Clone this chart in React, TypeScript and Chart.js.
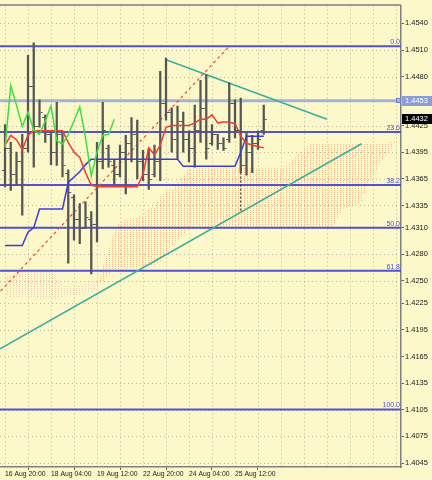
import React, { useEffect, useRef } from "react";
import { Chart, registerables } from "chart.js";

Chart.register(...registerables);

// ---------- data ----------
const xTickBars = [0, 8, 16, 24, 32, 40];
const xTickLabels = ["16 Aug 20:00", "18 Aug 04:00", "19 Aug 12:00", "22 Aug 20:00", "24 Aug 04:00", "25 Aug 12:00"];
const xGridBars = [0, 4, 8, 12, 16, 20, 24, 28, 32, 36, 40, 44, 48, 52, 56, 60, 64, 68];

const yTickValues = [1.4540, 1.4510, 1.4480, 1.4425, 1.4395, 1.4365, 1.4335, 1.4310, 1.4280, 1.4250, 1.4225, 1.4195, 1.4165, 1.4135, 1.4105, 1.4075, 1.4045];
const yTickLabels = ["1.4540", "1.4510", "1.4480", "1.4425", "1.4395", "1.4365", "1.4335", "1.4310", "1.4280", "1.4250", "1.4225", "1.4195", "1.4165", "1.4135", "1.4105", "1.4075", "1.4045"];

const barOpen = [1.4375, 1.4400, 1.4370, 1.4385, 1.4400, 1.4470, 1.4425, 1.4435, 1.4415, 1.4395,
  1.4415, 1.4372, 1.4345, 1.4320, 1.4310, 1.4320, 1.4314, 1.4385, 1.4400, 1.4380,
  1.4370, 1.4395, 1.4405, 1.4415, 1.4385, 1.4370, 1.4370, 1.4385, 1.4450, 1.4440,
  1.4410, 1.4430, 1.4410, 1.4400, 1.4420, 1.4445, 1.4405, 1.4415, 1.4405, 1.4410,
  1.4450, 1.4420, 1.4380, 1.4395, 1.4405, 1.4420];
const barHigh = [1.4426, 1.4406, 1.4395, 1.4415, 1.4504, 1.4518, 1.4454, 1.4437, 1.4417, 1.4451,
  1.4417, 1.4375, 1.4347, 1.4337, 1.4339, 1.4328, 1.4406, 1.4451, 1.4403, 1.4386,
  1.4403, 1.4414, 1.4434, 1.4431, 1.4397, 1.4399, 1.4403, 1.4486, 1.4501, 1.4445,
  1.4447, 1.4440, 1.4419, 1.4448, 1.4476, 1.4482, 1.4426, 1.4415, 1.4411, 1.4473,
  1.4454, 1.4456, 1.4417, 1.4414, 1.4419, 1.4448];
const barLow = [1.4356, 1.4352, 1.4358, 1.4324, 1.4395, 1.4378, 1.4423, 1.4406, 1.4381, 1.4380,
  1.4367, 1.4270, 1.4296, 1.4292, 1.4309, 1.4258, 1.4294, 1.4376, 1.4378, 1.4359,
  1.4367, 1.4348, 1.4384, 1.4365, 1.4363, 1.4353, 1.4367, 1.4363, 1.4431, 1.4395,
  1.4387, 1.4395, 1.4384, 1.4378, 1.4406, 1.4387, 1.4403, 1.4398, 1.4397, 1.4406,
  1.4411, 1.4372, 1.4369, 1.4372, 1.4398, 1.4415];
const barClose = [1.4400, 1.4370, 1.4385, 1.4400, 1.4470, 1.4425, 1.4440, 1.4415, 1.4395, 1.4415,
  1.4380, 1.4350, 1.4320, 1.4310, 1.4322, 1.4314, 1.4385, 1.4420, 1.4385, 1.4370,
  1.4395, 1.4405, 1.4415, 1.4385, 1.4370, 1.4365, 1.4385, 1.4450, 1.4440, 1.4410,
  1.4430, 1.4410, 1.4400, 1.4420, 1.4445, 1.4400, 1.4415, 1.4405, 1.4400, 1.4450,
  1.4420, 1.4380, 1.4395, 1.4405, 1.4410, 1.4432];

// dashed tail under bar 41
const tailBar = 41;
const tailFrom = 1.4372;
const tailTo = 1.4328;

const tenkan = [1.4403, 1.4414, 1.4409, 1.4398, 1.4414, 1.4419, 1.4419, 1.4419, 1.4419, 1.4419,
  1.4419, 1.4406, 1.4395, 1.4389, 1.4372, 1.4358, 1.4356, 1.4356, 1.4356, 1.4356,
  1.4356, 1.4356, 1.4356, 1.4356, 1.4370, 1.4400, 1.4392, 1.4403, 1.4423, 1.4425,
  1.4425, 1.4425, 1.4425, 1.4428, 1.4432, 1.4432, 1.4437, 1.4428, 1.4429, 1.4429,
  1.4427, 1.4413, 1.4405, 1.4403, 1.4401, 1.4400];
const kijun = [1.4290, 1.4290, 1.4290, 1.4290, 1.4305, 1.4310, 1.4331, 1.4331, 1.4331, 1.4331,
  1.4331, 1.4361, 1.4367, 1.4373, 1.4381, 1.4387, 1.4387, 1.4387, 1.4387, 1.4387,
  1.4387, 1.4387, 1.4387, 1.4387, 1.4387, 1.4387, 1.4387, 1.4387, 1.4387, 1.4387,
  1.4387, 1.4379, 1.4379, 1.4379, 1.4379, 1.4379, 1.4379, 1.4379, 1.4379, 1.4379,
  1.4379, 1.4395, 1.4413, 1.4413, 1.4413, 1.4413];
const chikou = [1.4400, 1.4470, 1.4448, 1.4424, 1.4440, 1.4420, 1.4415, 1.4430, 1.4447, 1.4408,
  1.4404, 1.4415, 1.4430, 1.4446, 1.4411, 1.4368, 1.4395, 1.4414, 1.4415, 1.4432];

const spanA = [1.4233, 1.4232, 1.4231, 1.4231, 1.4232, 1.4231, 1.4229, 1.4229, 1.4231, 1.4229,
  1.4232, 1.4233, 1.4233, 1.4234, 1.4236, 1.4238, 1.4241, 1.4266, 1.4283, 1.4308,
  1.4317, 1.4319, 1.4320, 1.4322, 1.4324, 1.4331, 1.4333, 1.4347, 1.4350, 1.4353,
  1.4361, 1.4370, 1.4376, 1.4377, 1.4377, 1.4377, 1.4377, 1.4377, 1.4377, 1.4377,
  1.4377, 1.4377, 1.4377, 1.4377, 1.4377, 1.4377, 1.4377, 1.4377, 1.4377, 1.4380,
  1.4387, 1.4393, 1.4400, 1.4404, 1.4405, 1.4405, 1.4405, 1.4405, 1.4405, 1.4405,
  1.4405, 1.4405, 1.4405, 1.4405, 1.4405, 1.4405, 1.4405, 1.4406, 1.4408];
const spanB = [1.4255, 1.4257, 1.4258, 1.4260, 1.4261, 1.4262, 1.4263, 1.4262, 1.4261, 1.4253,
  1.4246, 1.4244, 1.4244, 1.4245, 1.4246, 1.4248, 1.4252, 1.4247, 1.4258, 1.4263,
  1.4264, 1.4264, 1.4264, 1.4264, 1.4264, 1.4266, 1.4267, 1.4272, 1.4281, 1.4289,
  1.4296, 1.4303, 1.4308, 1.4311, 1.4311, 1.4311, 1.4311, 1.4311, 1.4311, 1.4311,
  1.4311, 1.4311, 1.4311, 1.4311, 1.4311, 1.4311, 1.4311, 1.4311, 1.4311, 1.4311,
  1.4311, 1.4311, 1.4311, 1.4311, 1.4311, 1.4311, 1.4311, 1.4311, 1.4322, 1.4333,
  1.4334, 1.4336, 1.4339, 1.4356, 1.4367, 1.4380, 1.4389, 1.4397, 1.4406];

const fibHighBar = 39;
const fibHigh = 1.45143;
const fibLowBar = -20;
const fibLow = 1.41054;
const fibLevels = [0, 23.6, 38.2, 50, 61.8, 100];
const fibLabels = ["0.0", "23.6", "38.2", "50.0", "61.8", "100.0"];

const hLevel = 1.4453;
const hLevelLabel = "1.4453";
const lastPrice = 1.4432;
const lastPriceLabel = "1.4432";

const trendDownBars = [28, 56];
const trendDownPrices = [1.4499, 1.4432];
const trendUpBars = [-1, 62];
const trendUpPrices = [1.4173, 1.44045];

// view window
const xMin = -0.87;
const xMax = 68.87;
const yMin = 1.404056;
const yMax = 1.456011;

// ---------- styles ----------
const BG = "#FCF8CA";
const BAR = "#565656";
const FIB = "#5252D2";
const FONT = '"Liberation Sans", Arial, sans-serif';

export default function App() {
  const ref = useRef<HTMLCanvasElement>(null);

  useEffect(() => {
    document.body.style.margin = "0";
    const canvas = ref.current!;
    const ctx = canvas.getContext("2d")!;

    const makePattern = (color: string) => {
      const pc = document.createElement("canvas");
      pc.width = 3;
      pc.height = 2;
      const p = pc.getContext("2d")!;
      p.fillStyle = color;
      p.fillRect(1, 0, 1, 1);
      return ctx.createPattern(pc, "repeat")!;
    };
    const sandy = makePattern("rgba(242,165,120,0.8)");
    const thistle = makePattern("rgba(230,180,170,0.6)");

    const pts = (xs: number[], ys: number[]) => xs.map((x, i) => ({ x, y: ys[i] }));
    const series = (ys: number[]) => ys.map((y, i) => ({ x: i, y }));

    const fibDatasets = fibLevels.map((lv) => {
      const p = fibHigh - ((fibHigh - fibLow) * lv) / 100;
      return {
        type: "line" as const,
        data: [{ x: xMin - 1, y: p }, { x: xMax + 1, y: p }],
        borderColor: FIB,
        borderWidth: 2,
        pointRadius: 0,
        order: 10,
      };
    });

    const decor = {
      id: "decor",
      beforeDraw(chart: any) {
        const { ctx: c, chartArea: a, scales } = chart;
        const x = scales.x, y = scales.y;
        c.save();
        c.fillStyle = BG;
        c.fillRect(0, 0, chart.width, chart.height);
        c.strokeStyle = "rgba(120,120,110,0.5)";
        c.lineWidth = 1;
        c.setLineDash([1, 3]);
        for (const b of xGridBars) {
          const px = Math.round(x.getPixelForValue(b)) + 0.5;
          c.beginPath();
          c.moveTo(px, a.top);
          c.lineTo(px, a.bottom);
          c.stroke();
        }
        for (const v of yTickValues) {
          const py = Math.round(y.getPixelForValue(v)) + 0.5;
          c.beginPath();
          c.moveTo(a.left, py);
          c.lineTo(a.right, py);
          c.stroke();
        }
        c.restore();
      },
      afterDatasetsDraw(chart: any) {
        const { ctx: c, chartArea: a, scales } = chart;
        const x = scales.x, y = scales.y;
        c.save();
        // open / close ticks
        c.strokeStyle = BAR;
        c.lineWidth = 1;
        for (let i = 0; i < barOpen.length; i++) {
          const px = x.getPixelForValue(i);
          const oy = Math.round(y.getPixelForValue(barOpen[i])) + 0.5;
          const cy = Math.round(y.getPixelForValue(barClose[i])) + 0.5;
          c.beginPath();
          c.moveTo(px - 3, oy);
          c.lineTo(px - 1, oy);
          c.moveTo(px + 1, cy);
          c.lineTo(px + 3, cy);
          c.stroke();
        }
        // fib labels
        c.fillStyle = FIB;
        c.font = `7px ${FONT}`;
        c.textAlign = "right";
        c.textBaseline = "alphabetic";
        fibLevels.forEach((lv, i) => {
          const p = fibHigh - ((fibHigh - fibLow) * lv) / 100;
          const py = y.getPixelForValue(p);
          c.fillText(fibLabels[i], a.right - 1, py - 2);
        });
        c.restore();
      },
      afterDraw(chart: any) {
        const { ctx: c, chartArea: a, scales } = chart;
        const y = scales.y;
        c.save();
        c.strokeStyle = "#808080";
        c.lineWidth = 1.5;
        c.beginPath();
        c.moveTo(0, a.top - 0.5);
        c.lineTo(a.right, a.top - 0.5);
        c.stroke();
        c.font = `7.5px ${FONT}`;
        c.textBaseline = "middle";
        c.textAlign = "left";
        const hy = Math.round(y.getPixelForValue(hLevel));
        c.fillStyle = "#8A9DD8";
        c.fillRect(a.right + 1, hy - 5, 31, 10);
        c.fillStyle = "#ffffff";
        c.fillText(hLevelLabel, a.right + 4, hy);
        c.strokeStyle = "#7080C8";
        c.lineWidth = 1;
        c.strokeRect(a.right - 4.5, hy - 2.5, 4, 4);
        const ly = Math.round(y.getPixelForValue(lastPrice));
        c.fillStyle = "#000000";
        c.fillRect(a.right + 1, ly - 5, 31, 10);
        c.fillStyle = "#ffffff";
        c.fillText(lastPriceLabel, a.right + 4, ly);
        c.restore();
      },
    };

    const chart = new Chart(ctx, {
      type: "line",
      data: {
        datasets: [
          {
            type: "line",
            data: series(spanA),
            borderColor: "rgba(0,0,0,0)",
            borderWidth: 1,
            pointRadius: 0,
            fill: { target: "+1", above: sandy, below: thistle },
            order: 20,
          },
          {
            type: "line",
            data: series(spanB),
            borderColor: "rgba(0,0,0,0)",
            borderWidth: 1,
            pointRadius: 0,
            fill: false,
            order: 20,
          },
          ...fibDatasets,
          {
            type: "line",
            data: [{ x: xMin - 1, y: hLevel }, { x: xMax + 1, y: hLevel }],
            borderColor: "#A4B3D4",
            borderWidth: 3,
            pointRadius: 0,
            order: 9,
          },
          {
            type: "line",
            data: [{ x: fibLowBar, y: fibLow }, { x: fibHighBar, y: fibHigh }],
            borderColor: "#F04A44",
            borderWidth: 1.2,
            borderDash: [3, 3],
            pointRadius: 0,
            order: 8,
          },
          {
            type: "line",
            data: pts(trendDownBars, trendDownPrices),
            borderColor: "#3AAE9E",
            borderWidth: 1.5,
            pointRadius: 0,
            order: 7,
          },
          {
            type: "line",
            data: pts(trendUpBars, trendUpPrices),
            borderColor: "#3AAE9E",
            borderWidth: 1.5,
            pointRadius: 0,
            order: 7,
          },
          {
            type: "line",
            data: [{ x: tailBar, y: tailFrom }, { x: tailBar, y: tailTo }],
            borderColor: "#202020",
            borderWidth: 1,
            borderDash: [2, 2],
            pointRadius: 0,
            order: 6,
          },
          {
            type: "bar",
            data: barHigh.map((h, i) => ({ x: i, y: [barLow[i], h] })),
            backgroundColor: BAR,
            barThickness: 1.6,
            borderWidth: 0,
            order: 5,
          } as any,
          {
            type: "line",
            data: series(kijun),
            borderColor: "#3C3CDC",
            borderWidth: 1.5,
            pointRadius: 0,
            order: 3,
          },
          {
            type: "line",
            data: series(tenkan),
            borderColor: "#F03C32",
            borderWidth: 1.5,
            pointRadius: 0,
            order: 2,
          },
          {
            type: "line",
            data: series(chikou),
            borderColor: "#3CE03C",
            borderWidth: 1.5,
            pointRadius: 0,
            order: 1,
          },
        ],
      },
      options: {
        responsive: false,
        animation: false,
        events: [],
        layout: { padding: { top: 2, left: 0, right: 0, bottom: 0 } },
        plugins: { legend: { display: false }, tooltip: { enabled: false } },
        scales: {
          x: {
            type: "linear",
            min: xMin,
            max: xMax,
            offset: false,
            afterBuildTicks: (s: any) => {
              s.ticks = xTickBars.map((v) => ({ value: v }));
            },
            afterFit: (s: any) => {
              s.height = 13;
            },
            ticks: {
              autoSkip: false,
              maxRotation: 0,
              minRotation: 0,
              align: "start",
              padding: 0,
              color: "#1a1a1a",
              font: { family: FONT, size: 6.8 },
              callback: (_v: any, i: number) => xTickLabels[i],
            },
            grid: { drawOnChartArea: false, drawTicks: true, tickLength: 3, color: "#606060" },
            border: { display: true, color: "#808080", width: 1.5 },
          },
          y: {
            type: "linear",
            position: "right",
            min: yMin,
            max: yMax,
            afterBuildTicks: (s: any) => {
              s.ticks = yTickValues.map((v) => ({ value: v }));
            },
            afterFit: (s: any) => {
              s.width = 31;
            },
            ticks: {
              autoSkip: false,
              padding: 1,
              color: "#1a1a1a",
              font: { family: FONT, size: 7.5 },
              callback: (_v: any, i: number) => yTickLabels[i],
            },
            grid: { drawOnChartArea: false, drawTicks: true, tickLength: 3, color: "#606060" },
            border: { display: true, color: "#808080", width: 1.5 },
          },
        },
      },
      plugins: [decor],
    } as any);

    return () => chart.destroy();
  }, []);

  return <canvas ref={ref} width={432} height={480} style={{ display: "block", width: 432, height: 480 }} />;
}
